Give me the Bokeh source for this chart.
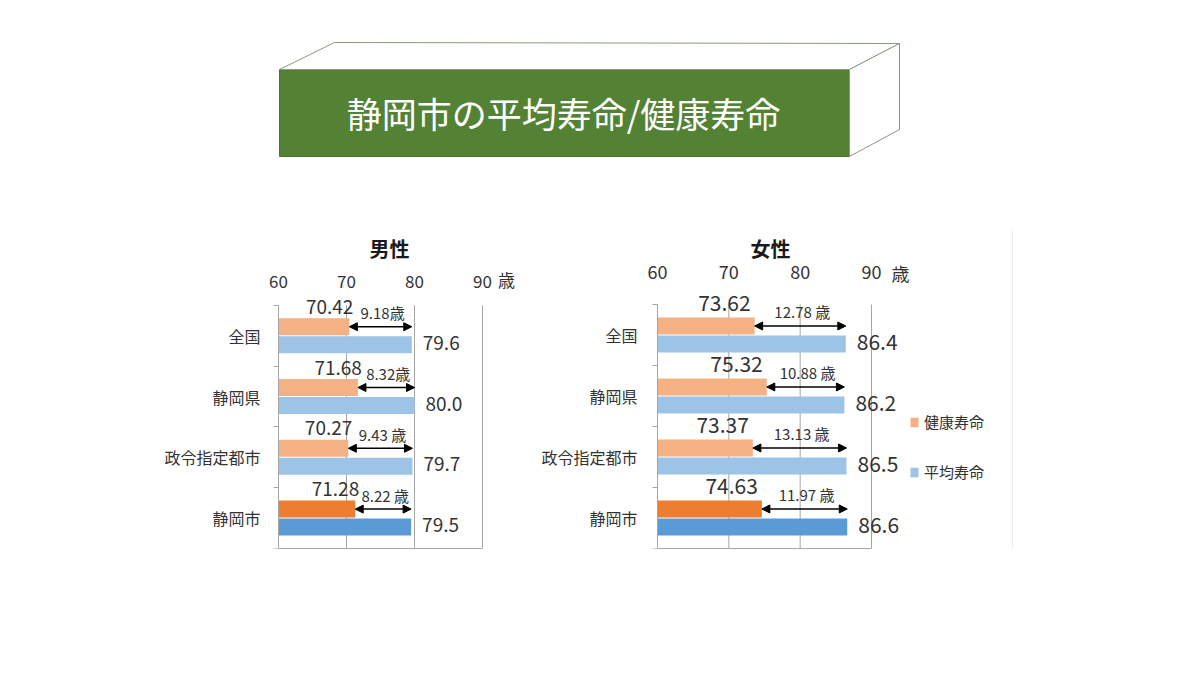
from bokeh.plotting import figure
from bokeh.layouts import column, row
from bokeh.models import (Range1d, LinearAxis, FixedTicker, ColumnDataSource, Label, LabelSet,
                          Arrow, NormalHead, Legend, LegendItem, Span)
from bokeh.embed import file_html
from bokeh.resources import INLINE
from bokeh.core.properties import value

FONT = "Noto Sans CJK JP"

# ---------------- data ----------------
title_text = "静岡市の平均寿命/健康寿命"
panel_titles = ["男性", "女性"]
categories = ["全国", "静岡県", "政令指定都市", "静岡市"]
series_names = ["健康寿命", "平均寿命"]
unit = "歳"
x_ticks = [60, 70, 80, 90]

male_healthy = [70.42, 71.68, 70.27, 71.28]
male_average = [79.6, 80.0, 79.7, 79.5]
male_gap_labels = ["9.18歳", "8.32歳", "9.43 歳", "8.22 歳"]

female_healthy = [73.62, 75.32, 73.37, 74.63]
female_average = [86.4, 86.2, 86.5, 86.6]
female_gap_labels = ["12.78 歳", "10.88 歳", "13.13 歳", "11.97 歳"]

# ---------------- style ----------------
healthy_colors = ["#F4B183", "#F4B183", "#F4B183", "#ED7D31"]
average_colors = ["#9DC3E6", "#9DC3E6", "#9DC3E6", "#5B9BD5"]
GRID = "#a6a6a6"
TXT = "#333333"
BAR_H = 0.28
OFF = 0.148


def make_chart(title, healthy, average, gaps, g):
    n = len(categories)
    x0, x1 = x_ticks[0], x_ticks[-1]
    fw = g["width"]
    fh = g["height"] - g["bt"] - g["bb"]
    ppu = g["plot_h"] / n                       # pixels per category
    ppx = g["plot_w"] / (x1 - x0)               # pixels per year
    xs = x0 - g["x60"] / ppx
    p = figure(width=g["width"], height=g["height"],
               x_range=Range1d(xs, xs + fw / ppx), y_range=Range1d(0, fh / ppu),
               output_backend="svg", toolbar_location=None,
               x_axis_location=None, y_axis_location=None, outline_line_color=None,
               min_border_left=0, min_border_right=0,
               min_border_top=g["bt"], min_border_bottom=g["bb"])
    p.center = []

    centers = [n - i - 0.5 for i in range(n)]
    hy = [c + OFF for c in centers]
    ay = [c - OFF for c in centers]
    top_h = [y + BAR_H / 2 for y in hy]
    src = ColumnDataSource(dict(
        hy=hy, ay=ay, h=healthy, a=average, hc=healthy_colors, ac=average_colors,
        hl=[f"{v:.2f}" for v in healthy], al=[f"{v:.1f}" for v in average],
        gl=gaps, mid=[(h + a) / 2 for h, a in zip(healthy, average)],
        hty=[t + g["hl_gap"] / ppu for t in top_h],
        gty=[t - g["gap_base"] / ppu for t in top_h],
    ))

    if g.get("edge_px"):
        p.add_layout(Span(location=x0 + (g["edge_px"] - g["x60"]) / ppx, dimension="height",
                          line_color="#ececec", line_width=1))

    # vertical grid lines over the plot area only
    p.segment(x0=x_ticks, y0=[0] * len(x_ticks), x1=x_ticks, y1=[n] * len(x_ticks),
              line_color=GRID, line_width=1)

    # axes
    xa = LinearAxis(ticker=FixedTicker(ticks=x_ticks), fixed_location=n, bounds=(x0, x1),
                    major_tick_out=0, major_tick_in=0, minor_tick_out=0,
                    axis_line_color=None, major_label_text_font=FONT,
                    major_label_text_font_size=g["tick_fs"], major_label_text_color=TXT,
                    major_label_standoff=g["tick_standoff"])
    p.add_layout(xa, "above")
    ya = LinearAxis(ticker=FixedTicker(ticks=centers, minor_ticks=list(range(n + 1))),
                    fixed_location=x0, bounds=(0, n),
                    major_label_overrides={c: cat for c, cat in zip(centers, categories)},
                    major_tick_out=0, major_tick_in=0, minor_tick_out=5, minor_tick_in=0,
                    axis_line_color=GRID, minor_tick_line_color=GRID,
                    major_label_text_font=FONT, major_label_text_font_size="16px",
                    major_label_text_color=TXT, major_label_standoff=g["cat_standoff"])
    p.add_layout(ya, "left")
    xb = LinearAxis(ticker=FixedTicker(ticks=[]), bounds=(x0, x1), axis_line_color=GRID,
                    major_tick_line_color=None, minor_tick_line_color=None,
                    major_label_text_font_size="0px")
    p.add_layout(xb, "below")

    rh = p.hbar(y="hy", left=x0, right="h", height=BAR_H, fill_color="hc",
                line_color=None, source=src)
    ra = p.hbar(y="ay", left=x0, right="a", height=BAR_H, fill_color="ac",
                line_color=None, source=src)

    p.add_layout(LabelSet(x="h", y="hty", text="hl", source=src, text_align="right",
                          text_baseline="alphabetic", x_offset=g["hl_xoff"],
                          text_font=value(FONT), text_font_size=value(g["val_fs"]),
                          text_color=TXT))
    p.add_layout(LabelSet(x="a", y="ay", text="al", source=src, text_align="left",
                          text_baseline="middle", x_offset=11, y_offset=2,
                          text_font=value(FONT), text_font_size=value(g["val_fs"]),
                          text_color=TXT))
    p.add_layout(LabelSet(x="mid", y="gty", text="gl", source=src, text_align="center",
                          text_baseline="alphabetic", x_offset=2,
                          text_font=value(FONT), text_font_size=value(g["gap_fs"]),
                          text_color=TXT))
    p.add_layout(Arrow(start=NormalHead(size=8, fill_color="black", line_color="black"),
                       end=NormalHead(size=8, fill_color="black", line_color="black"),
                       x_start="h", y_start="hy", x_end="a", y_end="hy", source=src,
                       line_width=1.5, line_color="black"))

    # panel title and unit
    p.add_layout(Label(x=(x0 + x1) / 2, y=n + g["title_up"] / ppu,
                       x_offset=g["title_xoff"], text=title, text_align="center",
                       text_baseline="middle", text_font=FONT, text_font_size="20px",
                       text_font_style="bold", text_color="#1a1a1a"))
    p.add_layout(Label(x=x1, y=n + g["unit_up"] / ppu,
                       x_offset=g["unit_xoff"], text=unit, text_align="center",
                       text_baseline="middle", text_font=FONT, text_font_size=g["tick_fs"],
                       text_color=TXT))
    return p, rh, ra


male_g = dict(width=520, height=489, x60=278, bt=60, bb=106, plot_w=204, plot_h=247,
              tick_fs="17px", tick_standoff=17, cat_standoff=13, val_fs="19px", gap_fs="15px",
              hl_gap=4.5, gap_base=1, hl_xoff=4, title_up=58, title_xoff=9,
              unit_up=26, unit_xoff=24)
female_g = dict(width=664, height=489, x60=137, bt=60, bb=111, plot_w=214, plot_h=244,
                tick_fs="18px", tick_standoff=26, cat_standoff=15, val_fs="21px", gap_fs="15px",
                hl_gap=6.5, gap_base=1, hl_xoff=-4, title_up=56, title_xoff=6,
                unit_up=32, unit_xoff=29, edge_px=492)

pm, _, _ = make_chart(panel_titles[0], male_healthy, male_average, male_gap_labels, male_g)
pf, rh, ra = make_chart(panel_titles[1], female_healthy, female_average, female_gap_labels, female_g)

legend = Legend(items=[LegendItem(label=value(series_names[0]), renderers=[rh], index=0),
                       LegendItem(label=value(series_names[1]), renderers=[ra], index=0)],
                location=(389, 66), padding=0, margin=0, border_line_color=None,
                background_fill_alpha=0, glyph_width=10, glyph_height=12, label_standoff=5,
                spacing=29, label_height=20, label_text_font=FONT, label_text_font_size="15px",
                label_text_color=TXT)
pf.add_layout(legend)

# ---------------- title box ----------------
tp = figure(width=1184, height=170, x_range=Range1d(0, 1184), y_range=Range1d(170, 0),
            output_backend="svg", toolbar_location=None, min_border=0,
            x_axis_location=None, y_axis_location=None, outline_line_color=None)
tp.center = []
tp.patch([279, 849, 849, 279], [69, 69, 156, 156], fill_color="#548235", line_color="#4a752f")
tp.patch([279, 334, 899, 849], [69, 42, 43, 69], fill_color="white", line_color="#8a9a80")
tp.patch([849, 899, 899, 849], [69, 43, 129, 156], fill_color="white", line_color="#8a9a80")
tp.text(x=[563], y=[112], text=[title_text], text_align="center", text_baseline="middle",
        text_color="white", text_font=value(FONT), text_font_size="35px")

layout = column(tp, row(pm, pf))
open("out.html", "w").write(file_html(layout, INLINE))
